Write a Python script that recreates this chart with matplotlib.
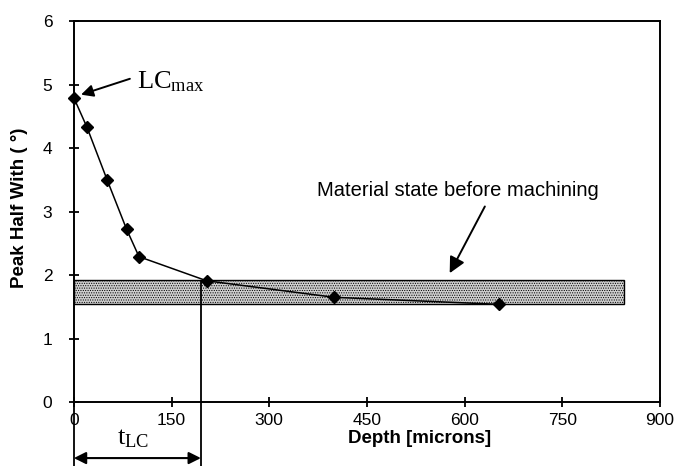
import matplotlib.pyplot as plt
from matplotlib.patches import Rectangle
from matplotlib.transforms import blended_transform_factory

# peak half width vs depth
depth = [0, 20, 51, 81, 100, 204, 400, 652]
half_width = [4.79, 4.33, 3.50, 2.72, 2.29, 1.91, 1.65, 1.54]

# band for the material state before machining
band_x = [0, 845]
band_y = [1.55, 1.93]
t_lc = 195

x_ticks = [0, 150, 300, 450, 600, 750, 900]
y_ticks = [0, 1, 2, 3, 4, 5, 6]

plt.rcParams['font.family'] = ['Liberation Sans', 'DejaVu Sans']
plt.rcParams['hatch.color'] = '#6a6a6a'
plt.rcParams['hatch.linewidth'] = 0.5

fig = plt.figure(figsize=(6.84, 4.66), dpi=100)
ax = fig.add_axes([0.108, 0.137, 0.857, 0.818])

ax.add_patch(Rectangle((band_x[0], band_y[0]), band_x[1] - band_x[0], band_y[1] - band_y[0],
                       facecolor='#cfcfcf', edgecolor='black', lw=1.0, hatch='.......',
                       zorder=1))

ax.plot(depth, half_width, '-', color='black', lw=1.1, marker='D', ms=6.5,
        mfc='black', mec='black', zorder=3, clip_on=False)

ax.set_xlim(0, 900)
ax.set_ylim(0, 6)
ax.set_xticks(x_ticks)
ax.set_yticks(y_ticks)
ax.tick_params(direction='inout', length=7, width=1.3, labelsize=12.5)
ax.tick_params(axis='x', pad=4)
ax.tick_params(axis='y', pad=12)
for s in ax.spines.values():
    s.set_linewidth(1.4)

ax.set_xlabel('Depth [microns]', fontsize=13.5, fontweight='bold', va='top')
ax.xaxis.set_label_coords(0.589, -0.072)
ax.set_ylabel('Peak Half With ( °)', fontsize=13.5, fontweight='bold', va='center')
ax.yaxis.set_label_coords(-0.092, 0.509)

# t_LC marker lines below the axis
trans = blended_transform_factory(ax.transData, fig.transFigure)
ax.plot([t_lc, t_lc], [0, band_y[1] - 0.02], color='black', lw=1.3, zorder=2)
fig.add_artist(plt.Line2D([t_lc, t_lc], [0.137, 0.0], transform=trans,
                          color='black', lw=1.3))
fig.add_artist(plt.Line2D([0, 0], [0.137, 0.0], transform=trans,
                          color='black', lw=1.3))
ax.annotate('', xy=(0, 0.017), xytext=(t_lc, 0.017), xycoords=trans, textcoords=trans,
            arrowprops=dict(arrowstyle='<|-|>', color='black', lw=1.5,
                            mutation_scale=18, shrinkA=0, shrinkB=0))
fig.text(0.171, 0.035, r'$\mathregular{t_{LC}}$', fontsize=19, family='Liberation Serif',
         ha='left', va='bottom')

# LC max label
ax.annotate('', xy=(depth[0] + 11, 4.84), xytext=(86, 5.09),
            arrowprops=dict(arrowstyle='-|>', color='black', lw=1.4,
                            mutation_scale=18, shrinkA=0, shrinkB=0))
ax.text(97, 5.05, r'$\mathregular{LC_{max}}$', fontsize=19, family='Liberation Serif',
        va='center', ha='left')

ax.text(590, 3.33, 'Material state before machining', fontsize=14.5, ha='center',
        va='center')
ax.annotate('', xy=(577, 2.03), xytext=(631, 3.08),
            arrowprops=dict(arrowstyle='-|>', color='black', lw=1.4,
                            mutation_scale=24, shrinkA=0, shrinkB=0))

fig.savefig('out.png', dpi=100)
